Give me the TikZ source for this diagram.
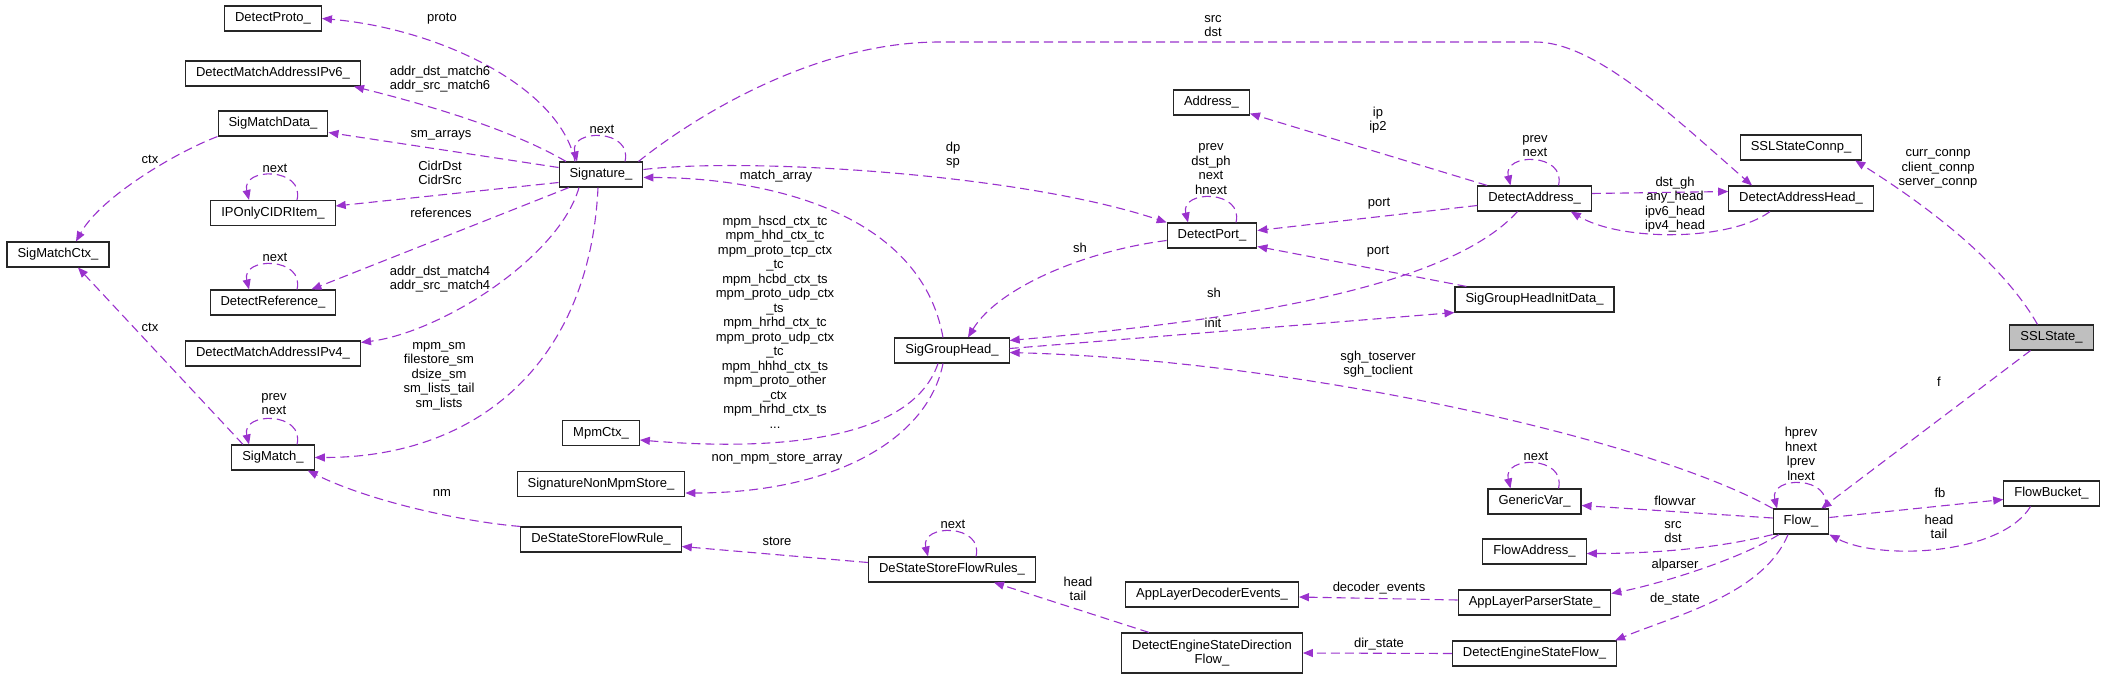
\documentclass[tikz,border=0pt]{standalone}
\usepackage{fontspec}
\setmainfont{Liberation Sans}
\usetikzlibrary{arrows.meta}
\definecolor{edgepurple}{HTML}{9A32CD}
\definecolor{rootgray}{HTML}{BFBFBF}

\begin{document}
\begin{tikzpicture}[x=1pt,y=-1pt,font=\fontsize{13}{14.5}\selectfont,
  cls/.style={draw=black!85,line width=1.1pt,fill=white,minimum height=25pt,inner xsep=10.5pt,inner ysep=2pt,align=center},
  mem/.style={draw=edgepurple,line width=1.1pt,dash pattern=on 9pt off 5pt,-{Triangle[length=10pt,width=8pt]}},
  lbl/.style={align=center,inner sep=0pt}]
\useasboundingbox (0,0) rectangle (2107,679);

% classes
\node[cls] (dproto) at (273,18.5) {DetectProto\_};
\node[cls] (dmaip6) at (273,73.5) {DetectMatchAddressIPv6\_};
\node[cls] (smdata) at (273,123.5) {SigMatchData\_};
\node[cls] (ipcidr) at (273,213) {IPOnlyCIDRItem\_};
\node[cls] (smctx) at (58,254.5) {SigMatchCtx\_};
\node[cls] (dref) at (273,302.5) {DetectReference\_};
\node[cls] (dmaip4) at (273,353.5) {DetectMatchAddressIPv4\_};
\node[cls] (smatch) at (273,457.5) {SigMatch\_};
\node[cls] (sig) at (601,174.5) {Signature\_};
\node[cls] (mpm) at (601,433) {MpmCtx\_};
\node[cls] (nonmpm) at (601,484) {SignatureNonMpmStore\_};
\node[cls] (dsrule) at (601,539.5) {DeStateStoreFlowRule\_};
\node[cls] (sgh) at (952,350.5) {SigGroupHead\_};
\node[cls] (dsrules) at (952,569.5) {DeStateStoreFlowRules\_};
\node[cls] (addr) at (1211.5,102.5) {Address\_};
\node[cls] (dport) at (1212,235.5) {DetectPort\_};
\node[cls] (aldec) at (1212,594.5) {AppLayerDecoderEvents\_};
\node[cls,minimum height=40pt] (desdf) at (1212,653) {DetectEngineStateDirection\\Flow\_};
\node[cls] (daddr) at (1534.5,198.5) {DetectAddress\_};
\node[cls] (sghinit) at (1534.5,299.5) {SigGroupHeadInitData\_};
\node[cls] (gvar) at (1534.5,501.5) {GenericVar\_};
\node[cls] (faddr) at (1534.5,551.5) {FlowAddress\_};
\node[cls] (alparser) at (1534.5,602.5) {AppLayerParserState\_};
\node[cls] (desflow) at (1534.5,653.5) {DetectEngineStateFlow\_};
\node[cls] (sslconnp) at (1801,147.5) {SSLStateConnp\_};
\node[cls] (dahead) at (1801,198.5) {DetectAddressHead\_};
\node[cls] (flow) at (1801,521.5) {Flow\_};
\node[cls,fill=rootgray] (ssl) at (2051.5,337.5) {SSLState\_};
\node[cls] (fbucket) at (2051.5,493.5) {FlowBucket\_};

% self references
\foreach \n in {sig,ipcidr,dref,smatch,dport,daddr,dsrules,gvar,flow}
  \draw[mem] ([xshift=24pt]\n.north) .. controls +(8,-33) and +(-8,-33) .. ([xshift=-24pt]\n.north);

% Signature_
\draw[mem] ([xshift=-26pt]sig.north) .. controls +(-15,-75) and +(116,10) .. (dproto.east);
\draw[mem] ([xshift=-35pt]sig.north) .. controls +(-60,-35) and +(60,15) .. ([xshift=-7pt]dmaip6.south east);
\draw[mem] ([yshift=7pt]sig.west) -- ([yshift=-9pt]smdata.east);
\draw[mem] ([yshift=-8pt]sig.west) -- ([yshift=7pt]ipcidr.east);
\draw[mem] ([xshift=-32pt]sig.south) -- ([xshift=-25pt]dref.north east);
\draw[mem] ([xshift=-22pt]sig.south) .. controls +(-20,70) and +(80,-10) .. ([yshift=-2pt]dmaip4.north east);
\draw[mem] ([xshift=-3pt]sig.south) .. controls +(-8,173) and +(165,0) .. (smatch.east);
\draw[mem] ([yshift=5pt]sig.east) .. controls +(100,-12) and +(-150,-50) .. (dport.north west);
\draw[mem] ([xshift=-5pt]sig.north east) .. controls +(50,-40) and +(-130,0) .. (940,42) -- (1535,42)
  .. controls +(60,0) and +(-80,-70) .. ([xshift=-49pt]dahead.north);

% SigMatch_ side
\draw[mem] (smdata.south west) .. controls +(-40,15) and +(25,-45) .. ([xshift=18pt]smctx.north);
\draw[mem] ([xshift=-30pt]smatch.north) -- ([xshift=20pt]smctx.south);
\draw[mem] (dsrule.north west) .. controls +(-60,-5) and +(60,30) .. ([xshift=-7pt]smatch.south east);

% SigGroupHead_
\draw[mem] ([xshift=-9pt]sgh.north) .. controls +(-23,-128) and +(117,0) .. ([yshift=-3pt]sig.east);
\draw[mem] ([xshift=-14pt]sgh.south) .. controls +(-28,82) and +(120,10) .. ([yshift=-7pt]mpm.east);
\draw[mem] ([xshift=-9pt]sgh.south) .. controls +(-15,75) and +(150,0) .. ([yshift=-9pt]nonmpm.east);
\draw[mem] ([yshift=2pt]sgh.east) -- (sghinit.south west);

% DetectPort_ / DetectAddress_
\draw[mem] ([yshift=-5pt]dport.west) .. controls +(-80,10) and +(30,-50) .. ([xshift=16pt]sgh.north);
\draw[mem] ([xshift=10pt]daddr.north west) -- ([yshift=2pt]addr.south east);
\draw[mem] ([yshift=-7pt]daddr.west) -- ([yshift=5pt]dport.east);
\draw[mem] ([xshift=12pt]sghinit.north west) -- ([yshift=-11pt]dport.east);
\draw[mem] ([xshift=-17pt]daddr.south) .. controls +(-67,74) and +(241,-21) .. ([yshift=-3pt]sgh.north east);
\draw[mem] ([yshift=5pt]daddr.east) -- ([yshift=7pt]dahead.west);
\draw[mem] ([xshift=-31pt]dahead.south) .. controls +(-40,30) and +(50,30) .. ([xshift=-21pt]daddr.south east);

% SSLState_ and Flow_
\draw[mem] ([xshift=-14pt]ssl.north) .. controls +(-40,-70) and +(55,35) .. ([xshift=-7pt]sslconnp.south east);
\draw[mem] ([xshift=-21pt]ssl.south) -- ([xshift=-8pt]flow.north east);
\draw[mem] (flow.north west) .. controls +(-122,-69) and +(290,8) .. ([yshift=-2pt]sgh.east);
\draw[mem] ([yshift=4pt]flow.east) -- ([yshift=-6pt]fbucket.west);
\draw[mem] ([xshift=-21pt]fbucket.south) .. controls +(-30,49) and +(50,26) .. (flow.south east);
\draw[mem] ([yshift=3.5pt]flow.west) -- ([yshift=-4pt]gvar.east);
\draw[mem] (flow.south west) .. controls +(-60,15) and +(60,0) .. ([yshift=-2pt]faddr.east);
\draw[mem] ([xshift=-22pt]flow.south) .. controls +(-40,25) and +(50,-10) .. ([yshift=9pt]alparser.east);
\draw[mem] ([xshift=-13pt]flow.south) .. controls +(-25,60) and +(60,-25) .. ([xshift=-2pt]desflow.north east);
\draw[mem] ([yshift=2.5pt]alparser.west) -- ([yshift=-2.5pt]aldec.east);
\draw[mem] (desflow.west) -- (desdf.east);
\draw[mem] ([xshift=-63pt]desdf.north) -- ([xshift=-42pt]dsrules.south east);
\draw[mem] ([yshift=7pt]dsrules.west) -- ([yshift=-7pt]dsrule.east);

% member names
\node[lbl] (lproto) at (442,19) {proto};
\node[lbl] (lmatch6) at (440,79) {addr\_dst\_match6\\addr\_src\_match6};
\node[lbl] (lsmarr) at (441,135) {sm\_arrays};
\node[lbl] (lcidr) at (440,173) {CidrDst\\CidrSrc};
\node[lbl] (lrefs) at (441,213) {references};
\node[lbl] (lmatch4) at (440,279) {addr\_dst\_match4\\addr\_src\_match4};
\node[lbl] (lsm) at (439,376) {mpm\_sm\\filestore\_sm\\dsize\_sm\\sm\_lists\_tail\\sm\_lists};
\node[lbl] (lsignext) at (602,129) {next};
\node[lbl] (lctxa) at (150,159) {ctx};
\node[lbl] (lctxb) at (150,327) {ctx};
\node[lbl] (lcidrnext) at (275,168) {next};
\node[lbl] (lrefnext) at (275,257) {next};
\node[lbl] (lsmnext) at (274,404) {prev\\next};
\node[lbl] (lnm) at (442,493) {nm};
\node[lbl] (lmarr) at (776,176) {match\_array};
\node[lbl] (lmpm) at (775,322) {mpm\_hscd\_ctx\_tc\\mpm\_hhd\_ctx\_tc\\mpm\_proto\_tcp\_ctx\\\_tc\\mpm\_hcbd\_ctx\_ts\\mpm\_proto\_udp\_ctx\\\_ts\\mpm\_hrhd\_ctx\_tc\\mpm\_proto\_udp\_ctx\\\_tc\\mpm\_hhhd\_ctx\_ts\\mpm\_proto\_other\\\_ctx\\mpm\_hrhd\_ctx\_ts\\...};
\node[lbl] (lnonmpm) at (777,459) {non\_mpm\_store\_array};
\node[lbl] (lstore) at (777,541) {store};
\node[lbl] (ldpsp) at (953,155) {dp\\sp};
\node[lbl] (lshport) at (1080,248) {sh};
\node[lbl] (lrulesnext) at (953,524) {next};
\node[lbl] (lht2) at (1078,589) {head\\tail};
\node[lbl] (lsrcdst) at (1213,26) {src\\dst};
\node[lbl] (lportnext) at (1211,169) {prev\\dst\_ph\\next\\hnext};
\node[lbl] (lip) at (1378,120) {ip\\ip2};
\node[lbl] (lporta) at (1379,204) {port};
\node[lbl] (lportb) at (1378,252) {port};
\node[lbl] (lshaddr) at (1214,293) {sh};
\node[lbl] (linit) at (1213,323) {init};
\node[lbl] (lsgh) at (1378,364) {sgh\_toserver\\sgh\_toclient};
\node[lbl] (ldec) at (1379,588) {decoder\_events};
\node[lbl] (ldir) at (1379,644) {dir\_state};
\node[lbl] (laddrnext) at (1535,146) {prev\\next};
\node[lbl] (lgvnext) at (1536,456) {next};
\node[lbl] (ldstgh) at (1675,183) {dst\_gh};
\node[lbl] (lheads) at (1675,212) {any\_head\\ipv6\_head\\ipv4\_head};
\node[lbl] (lflowvar) at (1675,501) {flowvar};
\node[lbl] (lsrcdst2) at (1673,532) {src\\dst};
\node[lbl] (lalp) at (1675,565) {alparser};
\node[lbl] (ldes) at (1675,599) {de\_state};
\node[lbl] (lflownext) at (1801,454) {hprev\\hnext\\lprev\\lnext};
\node[lbl] (lconnp) at (1938,169) {curr\_connp\\client\_connp\\server\_connp};
\node[lbl] (lf) at (1939,382) {f};
\node[lbl] (lfb) at (1940,493) {fb};
\node[lbl] (lht) at (1939,527) {head\\tail};
\end{tikzpicture}
\end{document}
